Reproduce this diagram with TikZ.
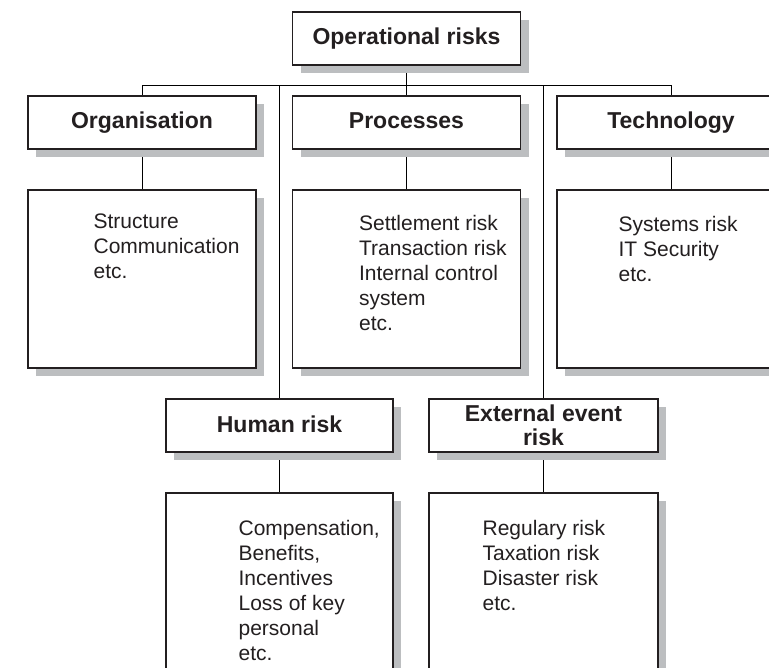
\documentclass[tikz,border=0pt]{standalone}
\usepackage{fontspec}
\setmainfont{Liberation Sans}
\usetikzlibrary{shadows,backgrounds}

\definecolor{ink}{RGB}{35,31,32}
\definecolor{shade}{RGB}{188,190,192}

\begin{document}
\begin{tikzpicture}[x=1pt, y=-1pt, line width=1.2pt, draw=ink, text=ink,
    boxed/.style={draw=ink, line width=1.6pt, fill=white, inner sep=0pt, outer sep=0pt,
        drop shadow={shadow xshift=8pt, shadow yshift=-8pt, fill=shade, opacity=1}},
    head/.style={boxed, minimum width=228pt, minimum height=53pt, align=center,
        font=\fontsize{23}{24}\selectfont\bfseries},
    onehead/.style={head, text height=17pt, text depth=4pt},
    list/.style={boxed, minimum width=228pt, minimum height=178pt},
    items/.style={inner sep=0pt, align=left, anchor=north west,
        font=\fontsize{21}{25}\selectfont}]
    \clip (0,0) rectangle (769,668);
    % top of the tree
    \node[onehead] (top) at (406.5,38.5) {Operational risks};
    \coordinate (bus) at (0,85);
    % first row
    \node[onehead] (org)  at (142,122.5)   {Organisation};
    \node[onehead] (proc) at (406.5,122.5) {Processes};
    \node[onehead] (tech) at (671,122.5)   {Technology};
    \node[list] (orgL)  at (142,279)   {};
    \node[list] (procL) at (406.5,279) {};
    \node[list] (techL) at (671,279)   {};
    \node[items] (orgT)  at ([xshift=65pt, yshift=-23pt]orgL.north west)  {Structure\\Communication\\etc.};
    \node[items] (procT) at ([xshift=66pt, yshift=-25pt]procL.north west) {Settlement risk\\Transaction risk\\Internal control\\system\\etc.};
    \node[items] (techT) at ([xshift=61pt, yshift=-26pt]techL.north west) {Systems risk\\IT Security\\etc.};
    % second row
    \node[onehead, minimum width=227pt] (human) at (279.5,425.5) {Human risk};
    \node[head, minimum width=229pt] (ext)   at (543.5,425.5) {External event\\risk};
    \node[list, minimum width=227pt, minimum height=200pt] (humanL) at (279.5,593) {};
    \node[list, minimum width=229pt, minimum height=200pt] (extL)   at (543.5,593) {};
    \node[items] (humanT) at ([xshift=72pt, yshift=-27pt]humanL.north west) {Compensation,\\Benefits,\\Incentives\\Loss of key\\personal\\etc.};
    \node[items] (extT)   at ([xshift=53pt, yshift=-27pt]extL.north west)   {Regulary risk\\Taxation risk\\Disaster risk\\etc.};
    % connectors behind the shadows
    \begin{scope}[on background layer]
        \fill[white] (0,0) rectangle (769,668);
        \draw (org.north) -- (org.north |- bus) -- (tech.north |- bus) -- (tech.north);
        \draw (top.south) -- (top.south |- bus);
        \draw (proc.north) -- (proc.north |- bus);
        \draw (human.north) -- (human.north |- bus);
        \draw (ext.north) -- (ext.north |- bus);
        \draw (org.south) -- (orgL.north);
        \draw (proc.south) -- (procL.north);
        \draw (tech.south) -- (techL.north);
        \draw (human.south) -- (humanL.north);
        \draw (ext.south) -- (extL.north);
    \end{scope}
\end{tikzpicture}
\end{document}
